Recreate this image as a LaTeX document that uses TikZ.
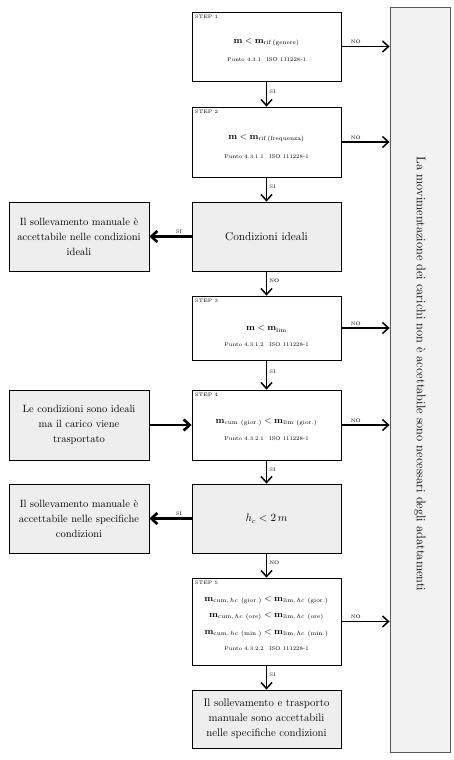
\documentclass[tikz,border=0pt]{standalone}
\usepackage{amsmath}
\usepackage{tikz}
\usetikzlibrary{arrows.meta}
\usetikzlibrary{positioning}

\begin{document}
\begin{tikzpicture}[x=1pt,y=-1pt,
    stepbox/.style={draw,line width=0.8pt,fill=white,minimum width=149pt,inner sep=0pt},
    greybox/.style={draw,line width=0.8pt,fill=gray!13,align=center,inner sep=0pt,
      font=\fontsize{10.5}{15}\selectfont},
    steplbl/.style={anchor=north west,font=\fontsize{5}{6}\selectfont,inner sep=3pt},
    formula/.style={font=\small,inner sep=0pt},
    punto/.style={font=\fontsize{5.5}{7}\selectfont,inner sep=0pt},
    tag/.style={font=\fontsize{5}{6}\selectfont,inner sep=2pt},
    flow/.style={-{Straight Barb[length=6pt,width=11pt]},line width=1.5pt},
    bigflow/.style={flow,line width=2.6pt}]
    \useasboundingbox (0,0) rectangle (454,760);
    \begin{scope}[every node/.style={stepbox}]
      \node[minimum height=69pt] (s1) at (266.5,46.5) {};
      \node[minimum height=70pt] (s2) at (266.5,142) {};
      \node[minimum height=64pt] (s3) at (266.5,328) {};
      \node[minimum height=70pt] (s4) at (266.5,425) {};
      \node[minimum height=87pt] (s5) at (266.5,621.5) {};
    \end{scope}
    \begin{scope}[every node/.style={greybox}]
      \node[minimum width=149pt,minimum height=69pt,font=\fontsize{11.5}{15}\selectfont] (ci) at (266.5,236.5) {Condizioni ideali};
      \node[minimum width=149pt,minimum height=58pt,font=\fontsize{11}{15}\selectfont] (fin) at (266.5,719)
        {Il sollevamento e trasporto\\manuale sono accettabili\\nelle specifiche condizioni};
      \node[minimum width=140pt,minimum height=69pt] (l1) at (79,236.5)
        {Il sollevamento manuale è\\accettabile nelle condizioni\\ideali};
      \node[minimum width=140pt,minimum height=70pt] (l2) at (79,425)
        {Le condizioni sono ideali\\ma il carico viene\\trasportato};
      \node[minimum width=140pt,minimum height=69pt] (l3) at (79,518.5)
        {Il sollevamento manuale è\\accettabile nelle specifiche\\condizioni};
      \node[minimum width=60pt,minimum height=745pt,draw=gray!70!black,fill=gray!10] (nok) at (420,379.5) {};
    \end{scope}
    \node[greybox,minimum width=149pt,minimum height=69pt] (hb) at (266.5,518.5) {$h_c < 2\,m$};
    \node[rotate=-90,font=\fontsize{12.5}{14}\selectfont] (nokt) at (420,374)
      {La movimentazione dei carichi non è accettabile sono necessari degli adattamenti};

    \node[steplbl] at (s1.north west) {STEP 1};
    \node[steplbl] at (s2.north west) {STEP 2};
    \node[steplbl] at (s3.north west) {STEP 3};
    \node[steplbl] at (s4.north west) {STEP 4};
    \node[steplbl] at (s5.north west) {STEP 5};

    \node[formula] (f1) at (266.5,42) {$\mathbf{m} < \mathbf{m}_{\mathrm{rif\,(genere)}}$};
    \node[punto] (p1) at (266.5,60) {Punto 4.3.1\quad ISO 111228-1};
    \node[formula] (f2) at (266.5,138) {$\mathbf{m} < \mathbf{m}_{\mathrm{rif\,(frequenza)}}$};
    \node[punto] (p2) at (266.5,157) {Punto 4.3.1.1\quad ISO 111228-1};
    \node[formula] (f3) at (266.5,329) {$\mathbf{m} < \mathbf{m}_{\mathrm{lim}}$};
    \node[punto] (p3) at (266.5,345) {Punto 4.3.1.2\quad ISO 111228-1};
    \node[formula] (f4) at (266.5,422) {$\mathbf{m}_{\mathrm{cum\ (gior.)}} < \mathbf{m}_{\mathrm{lim\ (gior.)}}$};
    \node[punto] (p4) at (266.5,439) {Punto 4.3.2.1\quad ISO 111228-1};
    \node[formula] (f5a) at (266.5,600) {$\mathbf{m}_{\mathrm{cum},\,hc\ \mathrm{(gior.)}} < \mathbf{m}_{\mathrm{lim},\,hc\ \mathrm{(gior.)}}$};
    \node[formula] (f5b) at (266.5,616) {$\mathbf{m}_{\mathrm{cum},\,hc\ \mathrm{(ore)}} < \mathbf{m}_{\mathrm{lim},\,hc\ \mathrm{(ore)}}$};
    \node[formula] (f5c) at (266.5,633) {$\mathbf{m}_{\mathrm{cum},\,hc\ \mathrm{(min.)}} < \mathbf{m}_{\mathrm{lim},\,hc\ \mathrm{(min.)}}$};
    \node[punto] (p5) at (266.5,649) {Punto 4.3.2.2\quad ISO 111228-1};

    \draw[flow] (s1) -- node[tag,right,pos=0.4] {SI} (s2);
    \draw[flow] (s2) -- node[tag,right,pos=0.4] {SI} (ci);
    \draw[flow] (ci) -- node[tag,right,pos=0.4] {NO} (s3);
    \draw[flow] (s3) -- node[tag,right,pos=0.4] {SI} (s4);
    \draw[flow] (s4) -- node[tag,right,pos=0.4] {SI} (hb);
    \draw[flow] (hb) -- node[tag,right,pos=0.4] {NO} (s5);
    \draw[flow] (s5) -- node[tag,right,pos=0.4] {SI} (fin);

    \draw[bigflow] (ci) -- node[tag,above,pos=0.3] {SI} (l1);
    \draw[bigflow] (hb) -- node[tag,above,pos=0.3] {SI} (l3);
    \draw[bigflow] (l2) -- (s4);

    \foreach \s in {s1,s2,s3,s4,s5}
      \draw[flow] (\s.east) -- node[tag,above,pos=0.3] {NO} (\s.east -| nok.west);
\end{tikzpicture}
\end{document}
